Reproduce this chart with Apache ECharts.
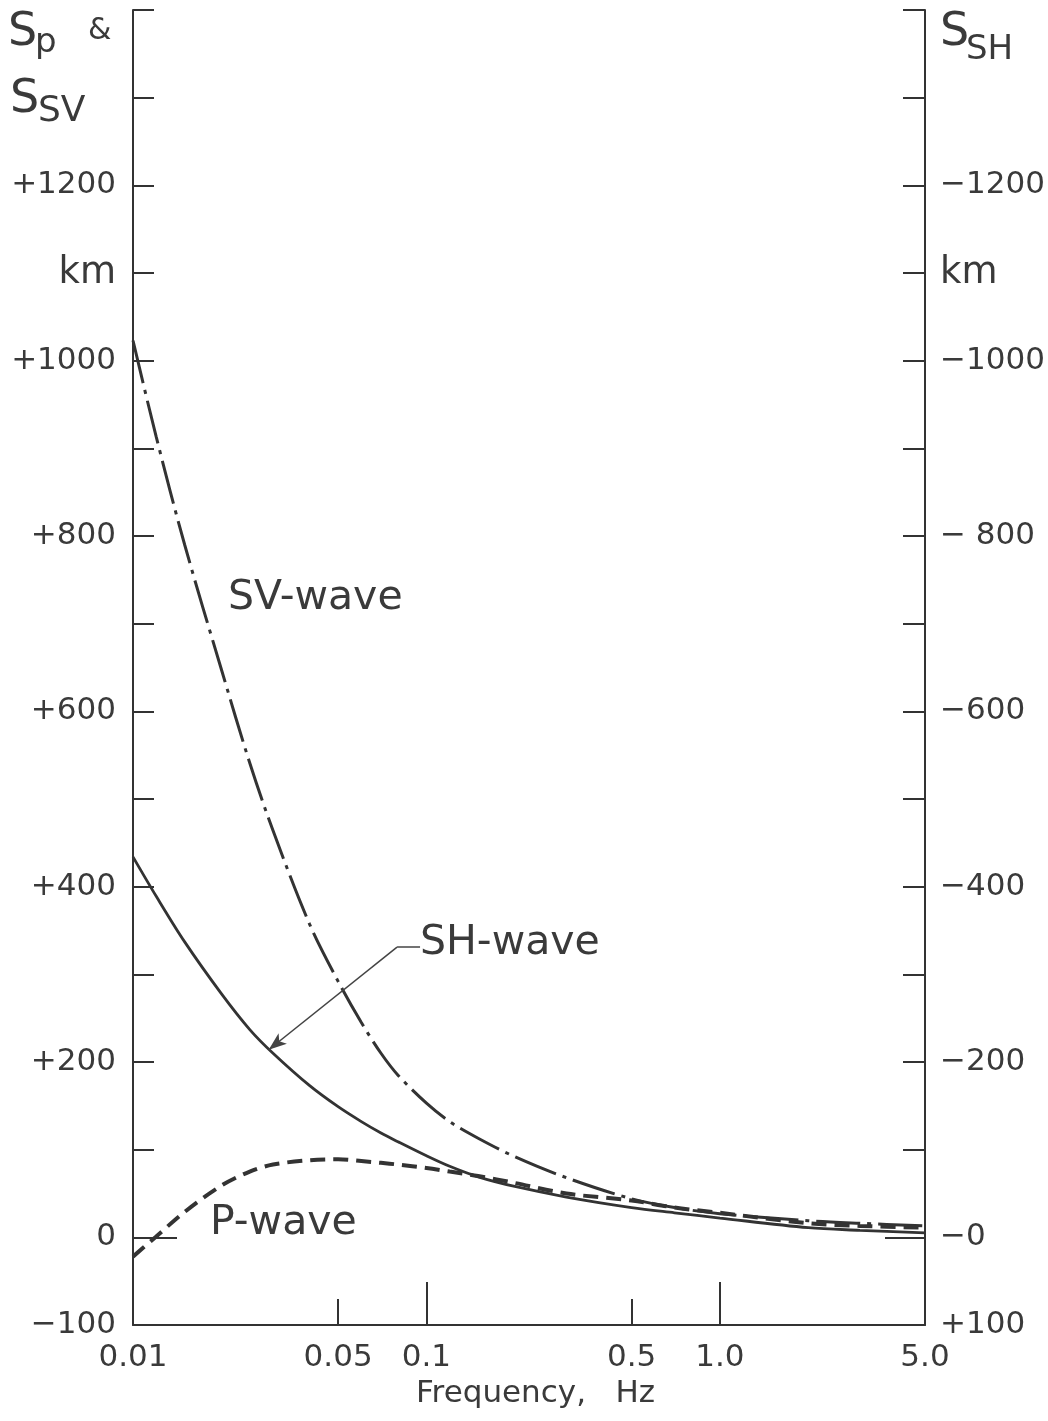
<!DOCTYPE html>
<html>
<head>
<meta charset="utf-8">
<script src="https://cdn.jsdelivr.net/npm/echarts@6/dist/echarts.min.js"></script>
<style>
  html, body { margin: 0; padding: 0; background: #fff; }
  #chart { width: 1048px; height: 1421px; }
</style>
</head>
<body>
<div id="chart"></div>
<script>
// Source spectra versus frequency (km)
const frequencies = [0.01, 0.012, 0.015, 0.02, 0.025, 0.03, 0.04, 0.05, 0.06, 0.07, 0.08,
                     0.1, 0.12, 0.15, 0.2, 0.3, 0.5, 0.7, 1.0, 2.0, 3.0, 5.0];
const svWave = [1023, 913, 790, 648, 541, 464, 357, 292, 245, 210, 185,
                153, 132, 113, 92, 68, 44, 34, 27, 19, 16, 13];
const shWave = [434, 389, 337, 278, 237, 210, 173, 149, 132, 119, 109,
                93, 81, 69, 58, 46, 34, 28, 22, 11, 8, 5];
const pWave  = [-22, 1, 29, 59, 75, 83, 88, 89, 87, 85, 83,
                79, 75, 70, 62, 50, 42, 34, 28, 16, 13, 11];

// Frequency axis labels
const xTickValues = [0.01, 0.05, 0.1, 0.5, 1.0, 5.0];
const xTickLabels = ['0.01', '0.05', '0.1', '0.5', '1.0', '5.0'];

// Left axis (S_P & S_SV) labels
const leftTickValues = [1200, 1100, 1000, 800, 600, 400, 200, 0, -100];
const leftTickLabels = ['+1200', 'km', '+1000', '+800', '+600', '+400', '+200', '0', '\u2212100'];

// Right axis (S_SH) labels
const rightTickValues = [-1200, -1100, -1000, -800, -600, -400, -200, 0, 100];
const rightTickLabels = ['\u22121200', 'km', '\u22121000', '\u2212 800', '\u2212600', '\u2212400', '\u2212200', '\u22120', '+100'];

// Leader line for the SH-wave note: [frequency, value] in data space
const shLeader = [[0.0951, 331], [0.0794, 331], [0.029, 214]];

const FONT = '"DejaVu Sans", "Liberation Sans", sans-serif';
const INK = '#333333';
const TEXT = '#3a3a3a';

function pairs(values) {
  return frequencies.map((f, i) => [f, values[i]]);
}

function lookup(values, labels, v, logScale) {
  for (let i = 0; i < values.length; i++) {
    const d = logScale ? Math.abs(Math.log10(v) - Math.log10(values[i])) : Math.abs(v - values[i]);
    if (d < 1e-6) return labels[i];
  }
  return '';
}

// unit label drawn a little larger than the numbers
function unitStyled(label) {
  return label === 'km' ? '{u|km}' : label;
}

const chart = echarts.init(document.getElementById('chart'), null, { renderer: 'canvas' });

const gridRect = { left: 133, right: 123, top: 10, bottom: 96, containLabel: false };
const axisStroke = { color: INK, width: 2 };
const tickStroke = { color: INK, width: 2 };
const SMOOTH = 0.33;
const unitRich = { u: { fontSize: 37, fontFamily: FONT, color: TEXT } };

const option = {
  animation: false,
  backgroundColor: '#ffffff',
  grid: [Object.assign({}, gridRect), Object.assign({}, gridRect)],
  xAxis: [
    {
      type: 'log', logBase: 10, min: 0.01, max: 5, gridIndex: 0,
      axisLine: { show: true, onZero: false, lineStyle: axisStroke },
      axisTick: { show: true, inside: true, length: 26, customValues: [0.05, 0.5], lineStyle: tickStroke },
      axisLabel: {
        show: true, customValues: xTickValues, margin: 17,
        color: TEXT, fontSize: 31, fontFamily: FONT,
        formatter: v => lookup(xTickValues, xTickLabels, v, true)
      },
      splitLine: { show: false }, minorTick: { show: false }, minorSplitLine: { show: false }
    },
    {
      type: 'log', logBase: 10, min: 0.01, max: 5, gridIndex: 1,
      axisLine: { show: false, onZero: false },
      axisTick: { show: true, inside: true, length: 43, customValues: [0.1, 1.0], lineStyle: tickStroke },
      axisLabel: { show: false },
      splitLine: { show: false }
    }
  ],
  yAxis: [
    {
      type: 'value', gridIndex: 0, position: 'left', min: -100, max: 1400, interval: 100,
      axisLine: { show: true, onZero: false, lineStyle: axisStroke },
      axisTick: { show: true, inside: true, length: 21, lineStyle: tickStroke },
      axisLabel: {
        show: true, margin: 17, color: TEXT, fontSize: 31, fontFamily: FONT, rich: unitRich,
        formatter: v => unitStyled(lookup(leftTickValues, leftTickLabels, v, false))
      },
      splitLine: { show: false }
    },
    {
      type: 'value', gridIndex: 0, position: 'right', inverse: true, min: -1400, max: 100, interval: 100,
      axisLine: { show: true, onZero: false, lineStyle: axisStroke },
      axisTick: { show: true, inside: true, length: 22, lineStyle: tickStroke },
      axisLabel: {
        show: true, margin: 15, color: TEXT, fontSize: 31, fontFamily: FONT, rich: unitRich,
        formatter: v => unitStyled(lookup(rightTickValues, rightTickLabels, v, false))
      },
      splitLine: { show: false }
    },
    {
      type: 'value', gridIndex: 1, position: 'left', min: -100, max: 1400,
      axisLine: { show: false, onZero: false },
      axisTick: { show: true, inside: true, length: 44, customValues: [0], lineStyle: tickStroke },
      axisLabel: { show: false },
      splitLine: { show: false }
    },
    {
      type: 'value', gridIndex: 1, position: 'right', inverse: true, min: -1400, max: 100,
      axisLine: { show: false, onZero: false },
      axisTick: { show: true, inside: true, length: 40, customValues: [0], lineStyle: tickStroke },
      axisLabel: { show: false },
      splitLine: { show: false }
    }
  ],
  series: [
    {
      name: 'SV-wave', type: 'line', xAxisIndex: 0, yAxisIndex: 0,
      data: pairs(svWave), smooth: SMOOTH, symbol: 'none', silent: true,
      lineStyle: { color: INK, width: 3, type: [44, 7, 4, 7], cap: 'butt' }
    },
    {
      name: 'SH-wave', type: 'line', xAxisIndex: 0, yAxisIndex: 0,
      data: pairs(shWave), smooth: SMOOTH, symbol: 'none', silent: true,
      lineStyle: { color: INK, width: 2.8 },
      markLine: {
        silent: true, symbol: ['none', 'none'], precision: 4,
        label: { show: false },
        lineStyle: { color: '#444', width: 1.5, type: 'solid' },
        data: [
          [{ coord: shLeader[0] }, { coord: shLeader[1] }],
          [{ coord: shLeader[1] }, { coord: shLeader[2], symbol: 'arrow', symbolSize: [10, 18] }]
        ]
      }
    },
    {
      name: 'P-wave', type: 'line', xAxisIndex: 0, yAxisIndex: 0,
      data: pairs(pWave), smooth: SMOOTH, symbol: 'none', silent: true,
      lineStyle: { color: INK, width: 4, type: [15, 8] }
    }
  ],
  graphic: [
    // left axis title: S_P & S_SV
    { type: 'text', left: 8, top: 10, silent: true, style: { text: 'S', font: '46px ' + FONT, fill: TEXT } },
    { type: 'text', left: 35, top: 26, silent: true, style: { text: 'p', font: '34px ' + FONT, fill: TEXT } },
    { type: 'text', left: 88, top: 16, silent: true, style: { text: '&', font: '30px ' + FONT, fill: TEXT } },
    { type: 'text', left: 10, top: 77, silent: true, style: { text: 'S', font: '46px ' + FONT, fill: TEXT } },
    { type: 'text', left: 38, top: 94, silent: true, style: { text: 'SV', font: '36px ' + FONT, fill: TEXT } },
    // right axis title: S_SH
    { type: 'text', left: 940, top: 10, silent: true, style: { text: 'S', font: '46px ' + FONT, fill: TEXT } },
    { type: 'text', left: 966, top: 33, silent: true, style: { text: 'SH', font: '34px ' + FONT, fill: TEXT } },
    // curve names
    { type: 'text', left: 228, top: 578, silent: true, style: { text: 'SV-wave', font: '41px ' + FONT, fill: TEXT } },
    { type: 'text', left: 420, top: 923, silent: true, style: { text: 'SH-wave', font: '41px ' + FONT, fill: TEXT } },
    { type: 'text', left: 210, top: 1203, silent: true, style: { text: 'P-wave', font: '41px ' + FONT, fill: TEXT } },
    // frequency axis name
    { type: 'text', left: 416, top: 1378, silent: true,
      style: { text: 'Frequency,   Hz', font: '31px ' + FONT, fill: TEXT } }
  ]
};

chart.setOption(option);
</script>
</body>
</html>
